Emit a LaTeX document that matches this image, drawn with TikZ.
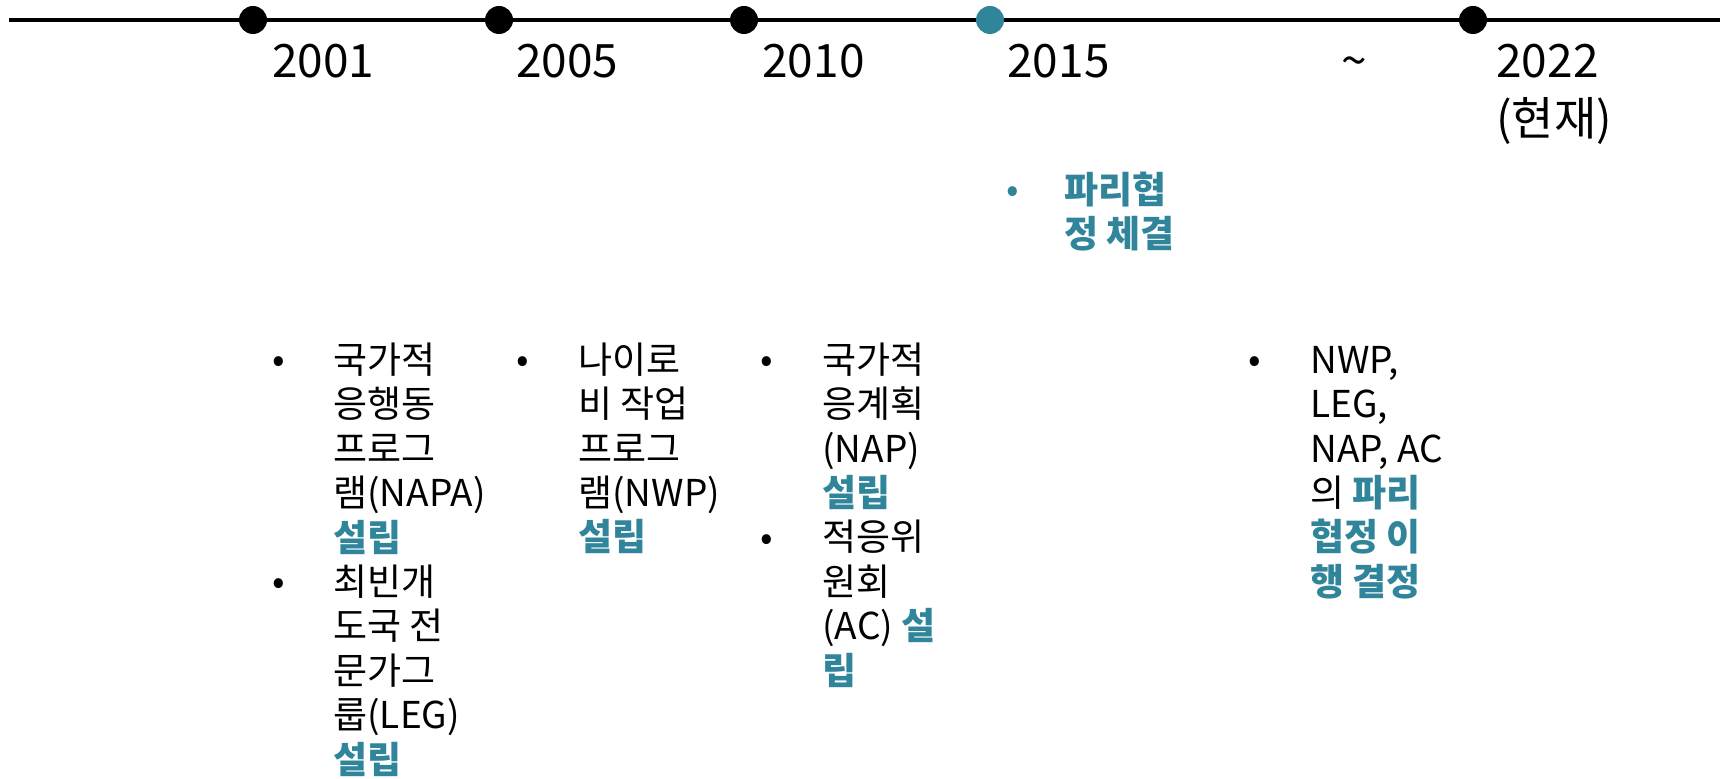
\documentclass[tikz,border=0pt]{standalone}
\usepackage{fontspec}
\setmainfont{Noto Sans CJK KR}
\usepackage{tikz}

\definecolor{parisblue}{RGB}{49,133,155}
\newcommand{\hilite}[1]{\textbf{\textcolor{parisblue}{#1}}}
\newcommand{\rowtop}{\rule{0pt}{16pt}}

\begin{document}
\begin{tikzpicture}[x=0.5pt,y=-0.5pt,
  dot/.style={circle,fill=black,inner sep=0pt,minimum size=14pt},
  year/.style={anchor=base west,inner sep=0pt,font=\fontsize{23pt}{29pt}\selectfont},
  entry/.style={anchor=north west,inner sep=0pt,align=left,font=\fontsize{18.5pt}{22.2pt}\selectfont},
  bullet/.style={anchor=base,inner sep=0pt,font=\fontsize{18.5pt}{22.2pt}\selectfont}]
  \useasboundingbox (0,0) rectangle (1723,779);
  % time axis
  \coordinate (start) at (9,20);
  \coordinate (end) at (1720,20);
  \draw[line width=2.25pt] (start) -- (end);
  \draw node (d01) [dot] at (253,20) {};
  \draw node (d05) [dot] at (499,20) {};
  \draw node (d10) [dot] at (744,20) {};
  \draw node (d15) [dot,fill=parisblue] at (990,20) {};
  \draw node (d22) [dot] at (1473,20) {};
  % years
  \draw node (y01) [year] at (272,78) {2001};
  \draw node (y05) [year] at (516,78) {2005};
  \draw node (y10) [year] at (762,78) {2010};
  \draw node (y15) [year] at (1007,78) {2015};
  \draw node (tilde) [year] at (1341,78) {\textasciitilde};
  \draw node (y22) [year,anchor=north west,align=left] at (1496,44) {2022\\(현재)};
  % 2015
  \draw node (b15) [bullet,text=parisblue] at (1013,203) {•};
  \draw node (e15) [entry] at (1064,171) {\rowtop\hilite{파리협}\\ \hilite{정 체결}};
  % lists below the axis
  \draw node (b01a) [bullet] at (279,373) {•};
  \draw node (b01b) [bullet] at (279,595) {•};
  \draw node (e01) [entry] at (333,341) {\rowtop 국가적\\ 응행동\\ 프로그\\ 램(NAPA)\\ \hilite{설립}\\
    최빈개\\ 도국 전\\ 문가그\\ 룹(LEG)\\ \hilite{설립}};
  \draw node (b05) [bullet] at (523,373) {•};
  \draw node (e05) [entry] at (578,341) {\rowtop 나이로\\ 비 작업\\ 프로그\\ 램(NWP)\\ \hilite{설립}};
  \draw node (b10a) [bullet] at (767,373) {•};
  \draw node (b10b) [bullet] at (767,551) {•};
  \draw node (e10) [entry] at (822,341) {\rowtop 국가적\\ 응계획\\ (NAP)\\ \hilite{설립}\\
    적응위\\ 원회\\ (AC) \hilite{설}\\ \hilite{립}};
  \draw node (b22) [bullet] at (1255,373) {•};
  \draw node (e22) [entry] at (1310,341) {\rowtop NWP,\\ LEG,\\ NAP, AC\\ 의 \hilite{파리}\\
    \hilite{협정 이}\\ \hilite{행 결정}};
\end{tikzpicture}
\end{document}
